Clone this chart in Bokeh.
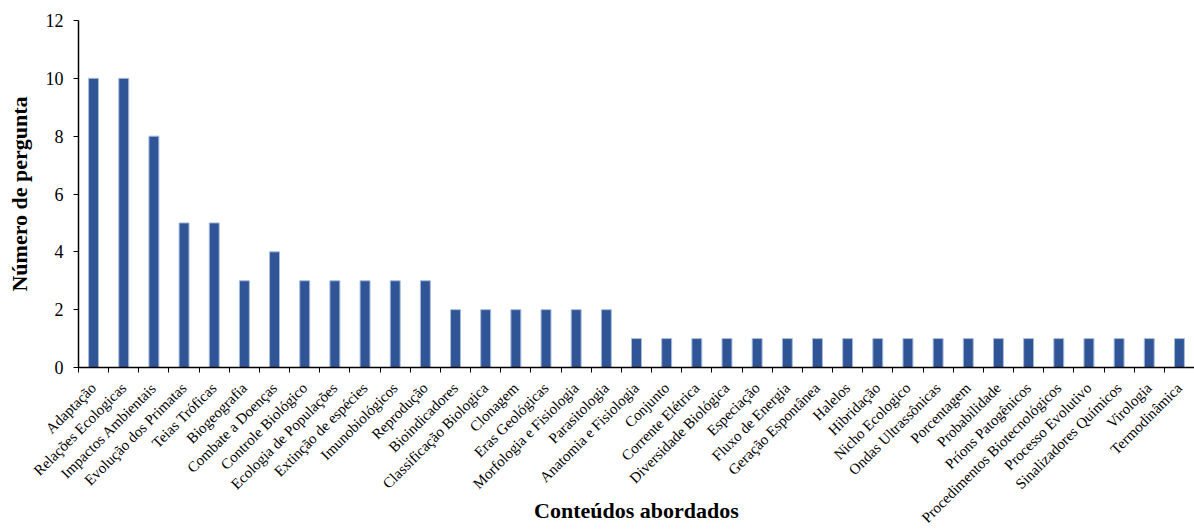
import math

from bokeh.embed import file_html
from bokeh.models import ColumnDataSource, FixedTicker, Range1d
from bokeh.plotting import figure
from bokeh.resources import INLINE

# Contents covered and number of questions per content
conteudos = [
    "Adaptação", "Relações Ecologicas", "Impactos Ambientais", "Evolução dos Primatas",
    "Teias Tróficas", "Biogeografia", "Combate a Doenças", "Controle Biológico",
    "Ecologia de Populações", "Extinção de espécies", "Imunobiológicos", "Reprodução",
    "Bioindicadores", "Classificação Biologica", "Clonagem", "Eras Geológicas",
    "Morfologia e Fisiologia", "Parasitologia", "Anatomia e Fisiologia", "Conjunto",
    "Corrente Elétrica", "Diversidade Biológica", "Especiação", "Fluxo de Energia",
    "Geração Espontânea", "Halelos", "Hibridação", "Nicho Ecologico",
    "Ondas Ultrassônicas", "Porcentagem", "Probabilidade", "Príons Patogênicos",
    "Procedimentos Biotecnológicos", "Processo Evolutivo", "Sinalizadores Químicos",
    "Virologia", "Termodinâmica",
]
perguntas = [10, 10, 8, 5, 5, 3, 4, 3, 3, 3, 3, 3, 2, 2, 2, 2, 2, 2,
             1, 1, 1, 1, 1, 1, 1, 1, 1, 1, 1, 1, 1, 1, 1, 1, 1, 1, 1]
y_ticks = [0, 2, 4, 6, 8, 10, 12]

n = len(conteudos)
idx = list(range(n))
source = ColumnDataSource(dict(x=idx, top=perguntas, nome=conteudos))

SERIF = "Liberation Serif"

p = figure(
    width=1194, height=532,
    output_backend="svg", toolbar_location=None,
    x_range=Range1d(-0.5, n - 0.5), y_range=Range1d(0, 12),
    min_border_left=78, min_border_right=0,
    min_border_top=20, min_border_bottom=165,
)
p.outline_line_color = None
p.xgrid.visible = False
p.ygrid.visible = False
p.background_fill_color = "white"
p.border_fill_color = "white"

p.vbar(x="x", top="top", width=0.33, source=source,
       fill_color="#2F5597", line_color="#A9BCE0", line_width=1)

# x axis: labels at bar centres, tick marks between categories
xa = p.xaxis[0]
xa.ticker = FixedTicker(ticks=idx, minor_ticks=[i - 0.5 for i in range(n + 1)])
xa.major_label_overrides = {i: name for i, name in enumerate(conteudos)}
xa.major_label_orientation = math.pi / 4
xa.major_tick_line_color = None
xa.major_tick_out = 0
xa.major_tick_in = 0
xa.minor_tick_line_color = "black"
xa.minor_tick_out = 5
xa.minor_tick_in = 0
xa.axis_line_color = "black"
xa.axis_line_width = 1.5
xa.major_label_text_font = SERIF
xa.major_label_text_font_size = "15px"
xa.major_label_text_color = "black"
xa.major_label_standoff = 13
xa.axis_label = "Conteúdos abordados"
xa.axis_label_text_font = SERIF
xa.axis_label_text_font_style = "bold"
xa.axis_label_text_font_size = "22px"
xa.axis_label_text_color = "black"
xa.axis_label_standoff = -36

# y axis
ya = p.yaxis[0]
ya.ticker = FixedTicker(ticks=y_ticks)
ya.minor_tick_line_color = None
ya.major_tick_out = 5
ya.major_tick_in = 0
ya.major_tick_line_color = "black"
ya.axis_line_color = "black"
ya.axis_line_width = 1.5
ya.major_label_text_font = SERIF
ya.major_label_text_font_size = "18px"
ya.major_label_text_color = "black"
ya.major_label_standoff = 10
ya.axis_label = "Número de pergunta"
ya.axis_label_text_font = SERIF
ya.axis_label_text_font_style = "bold"
ya.axis_label_text_font_size = "22px"
ya.axis_label_text_color = "black"
ya.axis_label_standoff = 11

open("out.html", "w").write(file_html(p, INLINE))
